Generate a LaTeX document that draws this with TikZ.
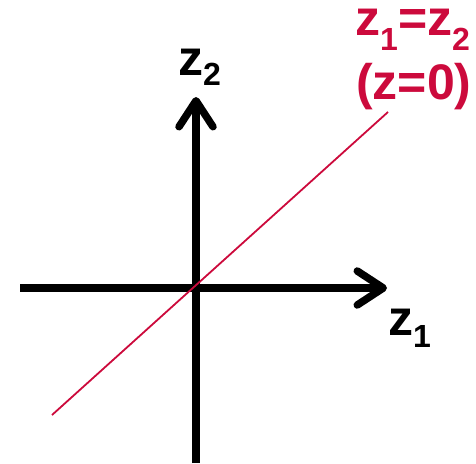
\documentclass[tikz,border=0pt]{standalone}
\usepackage{fontspec}
\setmainfont{Liberation Sans}
\usetikzlibrary{arrows.meta}
\definecolor{nred}{HTML}{CC0A3C}
\newcommand{\zsub}[2][-11pt]{\raisebox{#1}{\fontsize{32}{32}\selectfont #2}}

\begin{document}
\begin{tikzpicture}[x=1pt, y=-1pt,
  axis/.style={line width=7.5pt, -{Straight Barb[length=26pt, width=34pt, round]}},
  lbl/.style={font=\fontsize{50}{50}\selectfont\bfseries, anchor=base west, inner sep=0pt}]
 \useasboundingbox (0,0) rectangle (476,463);
 % axes
 \coordinate (z1start) at (20,288);
 \coordinate (z1end) at (387,288);
 \coordinate (z2start) at (196,463);
 \coordinate (z2end) at (196,97);
 \draw[axis] (z1start) -- (z1end);
 \draw[axis] (z2start) -- (z2end);
 % diagonal z1=z2
 \coordinate (diagA) at (52,415);
 \coordinate (diagB) at (388,112);
 \draw[nred, line width=1.8pt] (diagA) -- (diagB);
 % labels
 \node[lbl] (zlabtwo) at (178,75) {z\zsub[-10pt]{2}};
 \node[lbl] (zlabone) at (388,335) {z\zsub[-12pt]{1}};
 \node[lbl, nred, text height=0.6em] (eqtop) at (355,35) {z\zsub[-15pt]{1}=z\zsub[-15pt]{2}};
 \node[lbl, nred] (eqbot) at (356,99) {(z=0)};
\end{tikzpicture}
\end{document}
